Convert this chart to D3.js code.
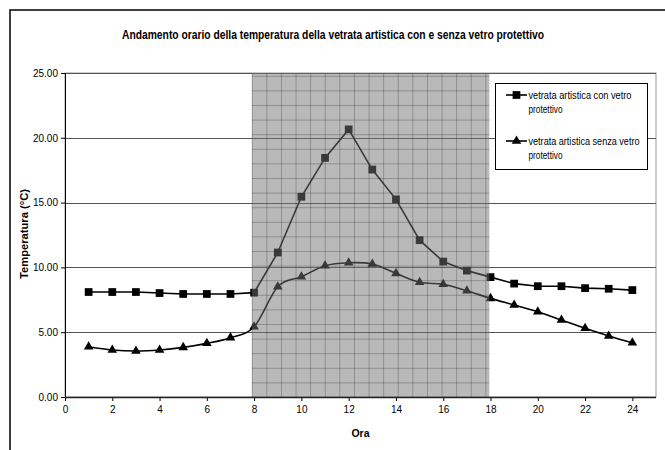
<!DOCTYPE html>
<html><head><meta charset="utf-8">
<script src="https://cdn.jsdelivr.net/npm/d3@7"></script>
<style>body{margin:0;background:#fff}svg{display:block}text{font-family:"Liberation Sans",Arial,sans-serif}</style>
</head><body><svg id="c" width="665" height="450"></svg>
<script>
const hours = [1,2,3,4,5,6,7,8,9,10,11,12,13,14,15,16,17,18,19,20,21,22,23,24];
const conVetro = [8.10,8.10,8.10,8.02,7.95,7.95,7.95,8.05,11.15,15.45,18.45,20.65,17.55,15.25,12.10,10.45,9.75,9.25,8.75,8.55,8.55,8.40,8.35,8.25];
const senzaVetro = [3.88,3.63,3.55,3.63,3.83,4.14,4.58,5.42,8.51,9.28,10.13,10.36,10.26,9.54,8.85,8.70,8.20,7.61,7.10,6.58,5.94,5.30,4.71,4.19];
const xTicks = [0,2,4,6,8,10,12,14,16,18,20,22,24];
const yTicks = [0,5,10,15,20,25];
const shadedHours = [7.9, 17.95];
const titleText = "Andamento orario della temperatura della vetrata artistica con e senza vetro protettivo";
const yTitle = "Temperatura (°C)";
const xTitle = "Ora";
const seriesNames = [["vetrata artistica con vetro", "protettivo"], ["vetrata artistica senza vetro", "protettivo"]];

const svg = d3.select("#c");
const m = {l:65, t:73, r:656, b:397};
const x = d3.scaleLinear().domain([0,25]).range([m.l, m.r]);
const y = d3.scaleLinear().domain([0,25]).range([m.b, m.t]);

// outer chart border
svg.append("rect").attr("x",10).attr("y",10).attr("width",720).attr("height",520)
  .attr("fill","#fff").attr("stroke","#000").attr("stroke-width",1.5);

// plot border (top/right)
svg.append("rect").attr("x",m.l).attr("y",m.t).attr("width",m.r-m.l).attr("height",m.b-m.t)
  .attr("fill","#fff").attr("stroke","#999").attr("stroke-width",1);

// gridlines
svg.append("g").selectAll("line").data(yTicks.filter(d=>d>0)).join("line")
  .attr("x1",m.l).attr("x2",m.r).attr("y1",d=>Math.round(y(d))+0.5).attr("y2",d=>Math.round(y(d))+0.5)
  .attr("stroke","#555").attr("stroke-width",1);

// series
const s1 = hours.map((h,i)=>[h,conVetro[i]]);
const s2 = hours.map((h,i)=>[h,senzaVetro[i]]);
svg.append("path").datum(s1).attr("fill","none").attr("stroke","#000").attr("stroke-width",1.6)
  .attr("d", d3.line().x(d=>x(d[0])).y(d=>y(d[1])));
svg.append("path").datum(s2).attr("fill","none").attr("stroke","#000").attr("stroke-width",1.6)
  .attr("d", d3.line().x(d=>x(d[0])).y(d=>y(d[1])).curve(d3.curveCatmullRom.alpha(0)));

const sq = d3.symbol().type(d3.symbolSquare).size(60);
const tri = d3.symbol().type(d3.symbolTriangle).size(40);
svg.append("g").selectAll("path").data(s1).join("path")
  .attr("transform",d=>`translate(${x(d[0])},${y(d[1])})`).attr("d",sq).attr("fill","#000");
svg.append("g").selectAll("path").data(s2).join("path")
  .attr("transform",d=>`translate(${x(d[0])},${y(d[1])})`).attr("d",tri).attr("fill","#000");

// shaded textured region
const defs = svg.append("defs");
const x0 = x(shadedHours[0]), x1 = x(shadedHours[1]);
const pat = defs.append("pattern").attr("id","tex").attr("patternUnits","userSpaceOnUse")
  .attr("width",14.6).attr("height",14.6).attr("x",x0).attr("y",m.t+2.8);
pat.append("rect").attr("width",14.6).attr("height",14.6).attr("fill","rgb(115,115,115)").attr("fill-opacity",0.5);
pat.append("line").attr("x1",0.5).attr("x2",0.5).attr("y1",0).attr("y2",14.6).attr("stroke","rgb(30,30,30)").attr("stroke-opacity",0.28);
pat.append("line").attr("x1",0).attr("x2",14.6).attr("y1",0.5).attr("y2",0.5).attr("stroke","rgb(30,30,30)").attr("stroke-opacity",0.28);
svg.append("rect").attr("x",x0).attr("y",m.t).attr("width",x1-x0).attr("height",m.b-m.t).attr("fill","url(#tex)");

// axes
const gy = svg.append("g").attr("transform",`translate(${m.l},0)`)
  .call(d3.axisLeft(y).tickValues(yTicks).tickFormat(d3.format(".2f")).tickSize(4).tickPadding(3));
const gx = svg.append("g").attr("transform",`translate(0,${m.b})`)
  .call(d3.axisBottom(x).tickValues(xTicks).tickFormat(d3.format("d")).tickSize(4).tickPadding(5));
[gx,gy].forEach(g=>{
  g.select(".domain").remove();
  g.selectAll("text").attr("font-size",10).attr("font-family","'Liberation Sans',Arial,sans-serif").attr("fill","#000");
  g.selectAll("line").attr("stroke","#000");
});
svg.append("line").attr("x1",m.l+0.5).attr("x2",m.l+0.5).attr("y1",m.t).attr("y2",m.b).attr("stroke","#000");
svg.append("line").attr("x1",m.l).attr("x2",m.r).attr("y1",m.b+0.5).attr("y2",m.b+0.5).attr("stroke","#222").attr("stroke-width",1.3);

// titles
svg.append("text").attr("x",333).attr("y",39).attr("text-anchor","middle")
  .attr("font-size",12).attr("font-weight","bold").attr("textLength",422).attr("lengthAdjust","spacingAndGlyphs").text(titleText);
svg.append("text").attr("transform","translate(28,234) rotate(-90)").attr("text-anchor","middle")
  .attr("font-size",10.5).attr("font-weight","bold").attr("textLength",90).attr("lengthAdjust","spacingAndGlyphs").text(yTitle);
svg.append("text").attr("x",(m.l+m.r)/2).attr("y",437).attr("text-anchor","middle")
  .attr("font-size",10.5).attr("font-weight","bold").text(xTitle);

// legend
const lg = svg.append("g");
lg.append("rect").attr("x",495.5).attr("y",83.5).attr("width",152).attr("height",86).attr("fill","#fff").attr("stroke","#000");
const entries = [{ly:95, name:seriesNames[0], sym:sq, w:[103,34]},{ly:141, name:seriesNames[1], sym:tri, w:[111,34]}];
entries.forEach(e=>{
  lg.append("line").attr("x1",506).attr("x2",527).attr("y1",e.ly).attr("y2",e.ly).attr("stroke","#000").attr("stroke-width",1.6);
  lg.append("path").attr("transform",`translate(516.5,${e.ly})`).attr("d",e.sym).attr("fill","#000");
  e.name.forEach((t,i)=>{
    lg.append("text").attr("x",528.5).attr("y",e.ly+4+i*13.5).attr("font-size",10)
      .attr("textLength",e.w[i]).attr("lengthAdjust","spacingAndGlyphs").text(t);
  });
});
</script></body></html>
